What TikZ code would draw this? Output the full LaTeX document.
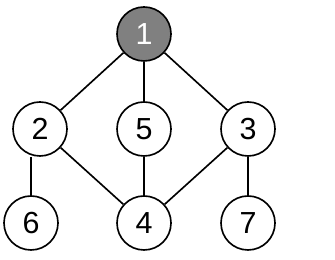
\documentclass[tikz,border=0pt]{standalone}
\usepackage{fontspec}
\setmainfont{Liberation Sans}
\tikzset{
  vert/.style={circle,draw,line width=1.4pt,minimum size=1.62cm,inner sep=0pt,fill=white,font=\fontsize{26}{26}\selectfont},
  rootvert/.style={vert,fill=black!50,text=white},
  edge/.style={line width=1.4pt}
}
\begin{document}
\begin{tikzpicture}[x=0.03cm,y=0.03cm]
                \useasboundingbox(0,0)rectangle(335,260);
                \node[rootvert](n1)at(144,226){1};
                \node[vert](n2)at(40,131){2};
                \node[vert](n5)at(144,131){5};
                \node[vert](n3)at(248,131){3};
                \node[vert](n6)at(31,37){6};
                \node[vert](n4)at(144,37){4};
                \node[vert](n7)at(248,37){7};
                \draw[edge](n1)--(n2);
                \draw[edge](n1)--(n5);
                \draw[edge](n1)--(n3);
                \draw[edge](n6)--(n6|-n2.south);
                \draw[edge](n2)--(n4);
                \draw[edge](n5)--(n4);
                \draw[edge](n3)--(n4);
                \draw[edge](n3)--(n7);
            \end{tikzpicture}
\end{document}
